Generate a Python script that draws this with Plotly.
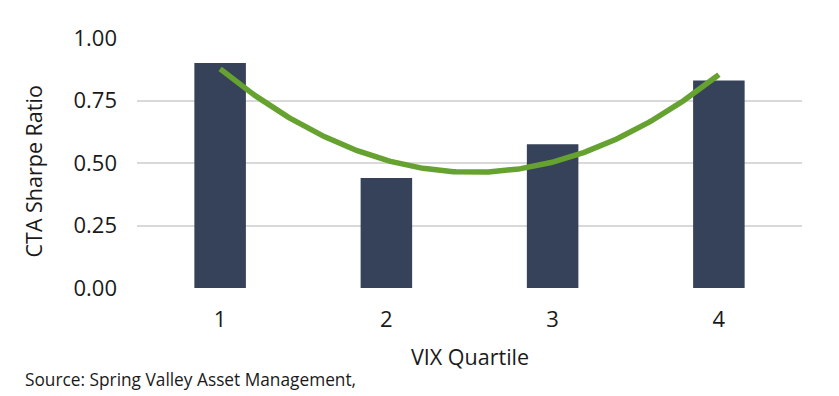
import numpy as np
import plotly.graph_objects as go

quartiles = [1, 2, 3, 4]
quartile_labels = ["1", "2", "3", "4"]
sharpe = [0.90, 0.44, 0.575, 0.83]
y_ticks = [0.0, 0.25, 0.5, 0.75, 1.0]
y_tick_labels = ["0.00", "0.25", "0.50", "0.75", "1.00"]

# Polynomial (order 2) trendline fitted to the bar values, as in the original chart
coef = np.polyfit(quartiles, sharpe, 2)
xs = np.linspace(1, 4, 200)
ys = np.polyval(coef, xs)

FONT = "Open Sans"
TXT = "#1a1a1a"

fig = go.Figure()
fig.add_trace(go.Bar(x=quartiles, y=sharpe, marker=dict(color="#364259", line=dict(width=0)),
                     width=0.31, showlegend=False))
fig.add_trace(go.Scatter(x=xs, y=ys, mode="lines", line=dict(color="#65A22F", width=5.5),
                         showlegend=False, hoverinfo="skip"))

# page body has an 8px default margin, so the figure is sized/offset to compensate
fig.update_layout(
    width=831, height=388,
    margin=dict(l=129, r=37, t=29, b=107),
    paper_bgcolor="white", plot_bgcolor="white",
    font=dict(family=FONT, color=TXT, size=22),
    xaxis=dict(range=[0.5, 4.5], tickvals=quartiles, ticktext=quartile_labels,
               showgrid=False, zeroline=False, showline=False, automargin=False,
               tickfont=dict(size=22), ticklabelstandoff=15),
    yaxis=dict(range=[-0.004, 1.004], tickvals=y_ticks, ticktext=y_tick_labels,
               showgrid=True, gridcolor="#d9d9d9", gridwidth=2, zeroline=False,
               automargin=False, tickfont=dict(size=22), ticklabelstandoff=19),
    annotations=[
        dict(text="VIX Quartile", xref="paper", yref="paper", x=0.5, y=-0.266,
             xanchor="center", yanchor="middle", showarrow=False,
             font=dict(size=21.5, color=TXT, family=FONT)),
        dict(text="CTA Sharpe Ratio", xref="paper", yref="paper", x=-0.155, y=0.466,
             xanchor="center", yanchor="middle", textangle=-90, showarrow=False,
             font=dict(size=21.5, color=TXT, family=FONT)),
        dict(text="Source: Spring Valley Asset Management,", xref="paper", yref="paper",
             x=-0.1714, y=-0.361, xanchor="left", yanchor="middle", showarrow=False,
             font=dict(size=17.3, color=TXT, family=FONT)),
    ],
)
fig.write_html("out.html")
